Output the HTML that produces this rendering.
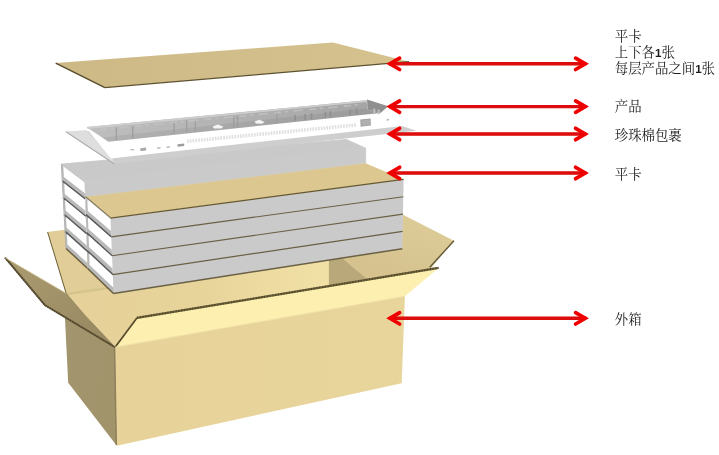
<!DOCTYPE html>
<html><head><meta charset="utf-8"><title>Packing diagram</title>
<style>html,body{margin:0;padding:0;background:#fff;font-family:"Liberation Sans",sans-serif;}
svg{display:block}</style></head><body>
<svg width="719" height="455" viewBox="0 0 719 455">
<defs>
<linearGradient id="gLeftFace" x1="0" y1="0" x2="1" y2="0.6">
 <stop offset="0" stop-color="#a3956d"/><stop offset="1" stop-color="#a1936b"/></linearGradient>
<linearGradient id="gLeftFlap" x1="0" y1="0" x2="1" y2="1">
 <stop offset="0" stop-color="#aa9b70"/><stop offset="0.5" stop-color="#a09169"/><stop offset="1" stop-color="#968761"/></linearGradient>
<linearGradient id="gFront" x1="0" y1="0" x2="1" y2="0">
 <stop offset="0" stop-color="#e7d399"/><stop offset="1" stop-color="#e8d59c"/></linearGradient>
<linearGradient id="gTopCard" x1="0" y1="0" x2="1" y2="0">
 <stop offset="0" stop-color="#cdb985"/><stop offset="1" stop-color="#d5c28e"/></linearGradient>
<linearGradient id="gInner" x1="0" y1="0" x2="1" y2="0">
 <stop offset="0" stop-color="#bebebe"/><stop offset="0.45" stop-color="#b3b3b3"/><stop offset="1" stop-color="#a4a4a4"/></linearGradient>
<linearGradient id="gInterior" gradientUnits="userSpaceOnUse" x1="70" y1="0" x2="330" y2="0">
 <stop offset="0" stop-color="#e5d199"/><stop offset="0.5" stop-color="#e7d49a"/><stop offset="1" stop-color="#f2e1a7"/></linearGradient>
<linearGradient id="gRFlap" gradientUnits="userSpaceOnUse" x1="420" y1="222" x2="400" y2="275">
 <stop offset="0" stop-color="#dccb97"/><stop offset="1" stop-color="#d5c28f"/></linearGradient>
<filter id="soft" x="-2%" y="-2%" width="104%" height="104%"><feGaussianBlur stdDeviation="0.6"/></filter>
<filter id="soft2" x="-2%" y="-2%" width="104%" height="104%"><feGaussianBlur stdDeviation="0.42"/></filter>
</defs>
<g filter="url(#soft)"><polygon points="47.6,232.0 70.0,229.0 120.0,280.0 106.0,290.5 66.7,295.9" fill="#e0cd97" />
<line x1="47.6" y1="232.0" x2="66.2" y2="293.4" stroke="#6a5d38" stroke-width="1.0" />
<polygon points="66.2,293.4 104.6,287.8 405.0,243.0 427.0,269.0 136.9,317.9 115.1,347.2 84.6,315.0" fill="url(#gInterior)" />
<line x1="67.0" y1="294.0" x2="113.5" y2="287.2" stroke="#d6c48d" stroke-width="2.4" />
<polygon points="328.9,255.0 338.5,255.0 367.5,278.4 328.9,285.5" fill="#b9a87a" />
<polygon points="338.5,255.0 402.0,246.0 402.5,214.5 454.0,240.7 429.5,270.0 367.5,279.5" fill="url(#gRFlap)" />
<line x1="454.0" y1="240.7" x2="429.8" y2="267.2" stroke="#5f5434" stroke-width="1.3" />
<polygon points="61.3,164.0 346.3,139.4 365.7,148.2 84.5,181.5" fill="#c9c9c9" stroke="#c9c9c9" stroke-width="0.8" stroke-linejoin="round" />
<polygon points="84.5,181.5 365.7,148.2 365.7,163.3 85.3,196.8" fill="#cacaca" stroke="#cacaca" stroke-width="0.8" stroke-linejoin="round" />
<polygon points="85.3,196.8 365.7,163.3 403.6,179.4 110.5,218.1" fill="#dbc78f" />
<polygon points="110.5,218.1 403.6,179.4 402.3,248.7 113.5,293.5" fill="#cacaca" />
<line x1="111.2" y1="236.9" x2="403.3" y2="196.7" stroke="#6a6045" stroke-width="1.15" />
<line x1="112.0" y1="255.8" x2="403.0" y2="214.1" stroke="#6a6045" stroke-width="1.15" />
<line x1="112.8" y1="274.6" x2="402.6" y2="231.4" stroke="#6a6045" stroke-width="1.15" />
<line x1="113.5" y1="293.5" x2="402.3" y2="248.7" stroke="#6a6045" stroke-width="1.5" />
<polyline points="85.3,196.8 110.5,218.1 403.6,179.4" fill="none" stroke="#665832" stroke-width="1.3" />
<polygon points="61.3,164.0 84.5,181.5 87.6,268.5 66.0,248.4" fill="#b9b9b9" />
<polygon points="63.3,166.3 84.5,182.3 84.9,193.3 63.9,177.0" fill="#ffffff" />
<line x1="62.2" y1="180.9" x2="85.1" y2="198.9" stroke="#595959" stroke-width="1.7" />
<polygon points="64.2,183.2 85.1,199.7 85.5,210.7 64.8,193.9" fill="#ffffff" />
<line x1="63.2" y1="197.8" x2="85.7" y2="216.3" stroke="#595959" stroke-width="1.7" />
<polygon points="65.1,200.1 85.7,217.1 86.2,228.1 65.7,210.8" fill="#ffffff" />
<line x1="64.1" y1="214.6" x2="86.4" y2="233.7" stroke="#595959" stroke-width="1.7" />
<polygon points="66.0,217.1 86.4,234.5 86.8,245.5 66.6,227.8" fill="#ffffff" />
<line x1="65.1" y1="231.5" x2="87.0" y2="251.1" stroke="#595959" stroke-width="1.7" />
<polygon points="66.9,234.0 87.0,251.9 87.4,262.9 67.5,244.7" fill="#ffffff" />
<line x1="66.0" y1="248.4" x2="87.6" y2="268.5" stroke="#665a3a" stroke-width="1.4" />
<polygon points="85.3,196.8 110.5,218.1 113.5,293.5 87.6,268.5" fill="#b9b9b9" />
<polygon points="87.4,199.4 110.5,218.9 111.0,230.9 87.8,210.9" fill="#ffffff" />
<line x1="85.9" y1="214.7" x2="111.2" y2="236.9" stroke="#595959" stroke-width="1.7" />
<polygon points="88.0,217.4 111.2,237.8 111.8,249.8 88.4,228.9" fill="#ffffff" />
<line x1="86.4" y1="232.7" x2="112.0" y2="255.8" stroke="#595959" stroke-width="1.7" />
<polygon points="88.6,235.4 112.0,256.6 112.5,268.6 89.0,246.9" fill="#ffffff" />
<line x1="87.0" y1="250.6" x2="112.8" y2="274.6" stroke="#595959" stroke-width="1.7" />
<polygon points="89.2,253.4 112.8,275.4 113.3,287.5 89.6,264.9" fill="#ffffff" />
<line x1="87.6" y1="268.5" x2="113.5" y2="293.5" stroke="#665a3a" stroke-width="1.4" />
<line x1="61.3" y1="164.0" x2="66.0" y2="248.4" stroke="#b4b4b4" stroke-width="1" />
<polygon points="63.9,297.0 115.1,347.2 116.8,445.7 68.2,382.8" fill="url(#gLeftFace)" />
<polygon points="4.5,257.4 66.2,293.4 84.6,315.0 115.1,347.2 44.6,305.6" fill="url(#gLeftFlap)" />
<polyline points="5.1,257.7 45.1,305.3 115.1,347.2" fill="none" stroke="#64593a" stroke-width="1.9" stroke-linejoin="round"/>
<polyline points="5.1,257.7 45.1,305.3 115.1,347.2" fill="none" stroke="#2e2712" stroke-width="1.9" stroke-dasharray="1.1,1.5" opacity="0.45"/>
<line x1="4.5" y1="257.4" x2="66.2" y2="293.4" stroke="#cbbb88" stroke-width="0.8" />
<polyline points="66.2,293.4 84.6,315.0 115.1,347.2" fill="none" stroke="#8c7d52" stroke-width="0.8" />
<polygon points="115.1,347.2 404.9,296.3 401.7,383.2 116.8,445.7" fill="url(#gFront)" />
<polygon points="115.1,347.2 136.9,317.9 438.5,267.9 404.9,296.3" fill="#fcefb0" />
<line x1="136.9" y1="317.9" x2="438.5" y2="267.9" stroke="#6b5f3a" stroke-width="2.2" />
<line x1="136.9" y1="317.9" x2="438.5" y2="267.9" stroke="#3c3418" stroke-width="2.2" stroke-dasharray="1.2,1.6" opacity="0.55"/>
<line x1="115.1" y1="347.2" x2="136.9" y2="317.9" stroke="#554a2a" stroke-width="1.7" />
<line x1="115.1" y1="347.2" x2="404.9" y2="296.3" stroke="#efdfa4" stroke-width="1" />
<line x1="114.6" y1="348.2" x2="116.3" y2="445.1" stroke="#8f8058" stroke-width="1.5" />
<polygon points="65.9,131.7 389.7,121.7 416.2,130.8 114.5,164.0" fill="#cecece" />
<polygon points="65.9,131.7 86.0,130.0 112.5,158.5 114.5,164.0" fill="#dedede" />
<line x1="65.9" y1="131.7" x2="114.5" y2="164.0" stroke="#adadad" stroke-width="1.1" />
<polygon points="85.1,126.7 367.0,99.5 401.5,111.5 402.6,126.0 111.0,158.5" fill="#ffffff" />
<polygon points="86.3,127.0 366.5,100.2 367.5,109.6 380.4,113.0 108.5,141.8" fill="url(#gInner)" />
<polygon points="101.8,137.4 367.4,108.2 367.5,109.6 380.4,113.0 108.5,141.8" fill="#000" stroke="none" stroke-width="0" stroke-linejoin="round" opacity="0.06"/>
<line x1="87.3" y1="128.0" x2="366.5" y2="101.2" stroke="#cdcdcd" stroke-width="1.8" />
<polygon points="367.0,99.5 388.3,106.2 380.4,113.0 367.5,109.6" fill="#8f8f8f" />
<polygon points="373.1,108.3 375.4,109.0 375.4,113.4 373.1,113.0" fill="#b9b9b9" />
<polygon points="377.6,109.2 379.9,109.9 379.9,114.0 377.6,113.6" fill="#b9b9b9" />
<line x1="116.4" y1="127.5" x2="116.4" y2="140.2" stroke="#9c9c9c" stroke-width="1.2" />
<line x1="132.7" y1="125.9" x2="132.7" y2="138.4" stroke="#9c9c9c" stroke-width="1.2" />
<line x1="174.0" y1="121.9" x2="174.0" y2="134.1" stroke="#9c9c9c" stroke-width="1.2" />
<line x1="186.6" y1="120.7" x2="186.6" y2="132.7" stroke="#9c9c9c" stroke-width="1.2" />
<line x1="195.4" y1="119.9" x2="195.4" y2="131.8" stroke="#9c9c9c" stroke-width="1.2" />
<line x1="233.8" y1="116.2" x2="233.8" y2="127.7" stroke="#9c9c9c" stroke-width="1.2" />
<line x1="237.5" y1="115.8" x2="237.5" y2="127.3" stroke="#9c9c9c" stroke-width="1.2" />
<line x1="277.0" y1="112.0" x2="277.0" y2="123.2" stroke="#9c9c9c" stroke-width="1.2" />
<line x1="295.2" y1="115.0" x2="295.2" y2="120.8" stroke="#8e8e8e" stroke-width="1.5" />
<line x1="305.2" y1="114.0" x2="305.2" y2="119.8" stroke="#8e8e8e" stroke-width="1.5" />
<line x1="311.5" y1="113.3" x2="311.5" y2="119.1" stroke="#8e8e8e" stroke-width="1.5" />
<line x1="325.3" y1="111.8" x2="325.3" y2="117.6" stroke="#8e8e8e" stroke-width="1.5" />
<line x1="330.3" y1="111.3" x2="330.3" y2="117.1" stroke="#8e8e8e" stroke-width="1.5" />
<line x1="350.3" y1="109.2" x2="350.3" y2="115.0" stroke="#8e8e8e" stroke-width="1.5" />
<line x1="356.6" y1="108.5" x2="356.6" y2="114.3" stroke="#8e8e8e" stroke-width="1.5" />
<line x1="100.0" y1="129.6" x2="360.0" y2="104.6" stroke="#c6c6c6" stroke-width="1.6" stroke-dasharray="7,4,3,5,10,6" opacity="0.7"/>
<polygon points="212.6,126.5 218.0,124.6 223.5,126.8 221.0,128.6 214.0,128.4" fill="#f4f4f4" />
<polygon points="254.4,121.6 259.5,119.8 264.6,122.0 262.0,123.8 256.0,123.5" fill="#f4f4f4" />
<line x1="187.0" y1="141.3" x2="357.0" y2="124.9" stroke="#e0e0e0" stroke-width="3.6" stroke-dasharray="1.7,1.1"/>
<polygon points="130.5,149.3 134.0,149.0 134.0,150.2 130.5,150.5" fill="#b5b5b5" />
<polygon points="140.3,148.2 146.1,147.6 146.1,150.4 140.3,151.0" fill="#a8a8a8" />
<polygon points="157.0,147.4 160.5,147.1 160.5,148.5 157.0,148.8" fill="#b5b5b5" />
<polygon points="166.5,146.5 170.0,146.2 170.0,147.6 166.5,147.9" fill="#b5b5b5" />
<polygon points="177.5,144.3 184.2,143.6 184.2,146.1 177.5,146.8" fill="#9c9c9c" />
<polygon points="360.3,119.6 370.6,118.4 370.9,125.6 360.6,126.8" fill="#a2a2a2" />
<polygon points="361.5,120.6 369.6,119.6 369.8,124.8 361.7,125.8" fill="#b0b0b0" />
<polygon points="386.5,119.6 389.0,119.3 389.0,120.3 386.5,120.6" fill="#999" />
<polygon points="55.7,63.1 333.0,42.5 409.0,61.7 104.9,87.6" fill="url(#gTopCard)" />
<line x1="104.9" y1="87.6" x2="409.0" y2="61.7" stroke="#5e5232" stroke-width="1.2" />
<line x1="55.7" y1="63.1" x2="104.9" y2="87.6" stroke="#574b2c" stroke-width="1.4" />
</g><g filter="url(#soft2)">
<path d="M389.0,63.8 L586.2,63.8" stroke="#dd0808" stroke-width="3.4" fill="none"/>
<path d="M399.6,58.1 L389.9,63.8 L399.6,69.5" stroke="#f00000" stroke-width="3.6999999999999997" fill="none" stroke-linecap="round" stroke-linejoin="miter" stroke-miterlimit="10"/>
<path d="M575.6,58.1 L585.3,63.8 L575.6,69.5" stroke="#f00000" stroke-width="3.6999999999999997" fill="none" stroke-linecap="round" stroke-linejoin="miter" stroke-miterlimit="10"/>
<path d="M389.0,106.6 L586.2,106.6" stroke="#dd0808" stroke-width="3.4" fill="none"/>
<path d="M399.6,100.9 L389.9,106.6 L399.6,112.3" stroke="#f00000" stroke-width="3.6999999999999997" fill="none" stroke-linecap="round" stroke-linejoin="miter" stroke-miterlimit="10"/>
<path d="M575.6,100.9 L585.3,106.6 L575.6,112.3" stroke="#f00000" stroke-width="3.6999999999999997" fill="none" stroke-linecap="round" stroke-linejoin="miter" stroke-miterlimit="10"/>
<path d="M389.0,134.0 L586.2,134.0" stroke="#dd0808" stroke-width="3.4" fill="none"/>
<path d="M399.6,128.3 L389.9,134.0 L399.6,139.7" stroke="#f00000" stroke-width="3.6999999999999997" fill="none" stroke-linecap="round" stroke-linejoin="miter" stroke-miterlimit="10"/>
<path d="M575.6,128.3 L585.3,134.0 L575.6,139.7" stroke="#f00000" stroke-width="3.6999999999999997" fill="none" stroke-linecap="round" stroke-linejoin="miter" stroke-miterlimit="10"/>
<path d="M389.0,173.0 L586.2,173.0" stroke="#dd0808" stroke-width="3.4" fill="none"/>
<path d="M399.6,167.3 L389.9,173.0 L399.6,178.7" stroke="#f00000" stroke-width="3.6999999999999997" fill="none" stroke-linecap="round" stroke-linejoin="miter" stroke-miterlimit="10"/>
<path d="M575.6,167.3 L585.3,173.0 L575.6,178.7" stroke="#f00000" stroke-width="3.6999999999999997" fill="none" stroke-linecap="round" stroke-linejoin="miter" stroke-miterlimit="10"/>
<path d="M389.0,318.3 L586.2,318.3" stroke="#dd0808" stroke-width="3.4" fill="none"/>
<path d="M399.6,312.6 L389.9,318.3 L399.6,324.0" stroke="#f00000" stroke-width="3.6999999999999997" fill="none" stroke-linecap="round" stroke-linejoin="miter" stroke-miterlimit="10"/>
<path d="M575.6,312.6 L585.3,318.3 L575.6,324.0" stroke="#f00000" stroke-width="3.6999999999999997" fill="none" stroke-linecap="round" stroke-linejoin="miter" stroke-miterlimit="10"/>
<g font-family="'Liberation Serif','Noto Serif CJK SC',serif" font-size="13.4" fill="#1c1c1c">
<text x="614.8" y="40.8">平卡</text>
<text x="614.8" y="56.7">上下各<tspan font-family="'Liberation Sans',sans-serif" font-weight="bold" font-size="11.6">1</tspan>张</text>
<text x="614.8" y="72.5">每层产品之间<tspan font-family="'Liberation Sans',sans-serif" font-weight="bold" font-size="11.6">1</tspan>张</text>
<text x="614.8" y="111">产品</text>
<text x="614.8" y="139.8">珍珠棉包裹</text>
<text x="614.8" y="178.7">平卡</text>
<text x="614.8" y="323.8">外箱</text>
</g>
</g></svg>
</body></html>
